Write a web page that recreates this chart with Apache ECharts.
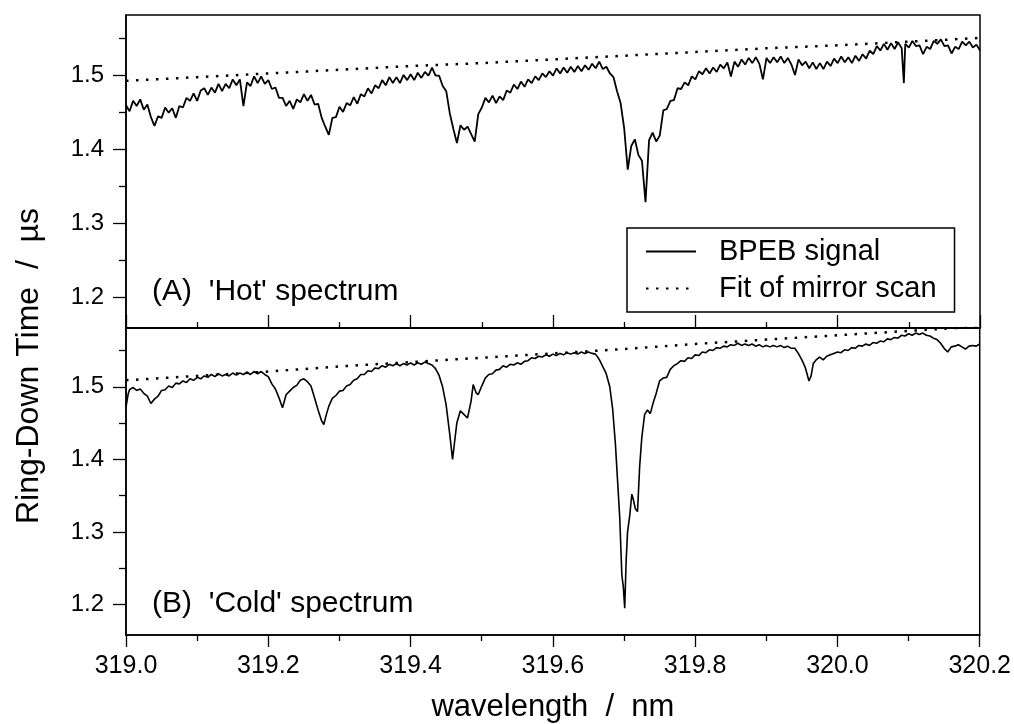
<!DOCTYPE html>
<html>
<head>
<meta charset="utf-8">
<script src="https://cdn.jsdelivr.net/npm/echarts@6/dist/echarts.min.js"></script>
<style>
html,body{margin:0;padding:0;background:#fff;}
#chart{width:1014px;height:724px;}
</style>
</head>
<body>
<div id="chart"></div>
<script>
// ---- data (wavelength nm, ring-down time µs) ----
var xMajorTicks = [319.0, 319.2, 319.4, 319.6, 319.8, 320.0, 320.2];
var xMinorTicks = [319.1, 319.3, 319.5, 319.7, 319.9, 320.1];
var yMajorTicks = [1.2, 1.3, 1.4, 1.5];
var yMinorTicks = [1.25, 1.35, 1.45, 1.55];

var hotSignal = [
[319.000,1.459],[319.005,1.451],[319.010,1.465],[319.015,1.458],[319.020,1.467],[319.025,1.453],[319.030,1.460],[319.035,1.443],[319.040,1.431],[319.045,1.444],
[319.050,1.442],[319.055,1.456],[319.060,1.449],[319.065,1.455],[319.070,1.442],[319.075,1.458],[319.080,1.456],[319.085,1.469],[319.090,1.465],[319.095,1.475],
[319.100,1.465],[319.105,1.479],[319.110,1.482],[319.115,1.473],[319.120,1.483],[319.125,1.476],[319.130,1.488],[319.135,1.478],[319.140,1.488],[319.145,1.482],
[319.150,1.494],[319.155,1.486],[319.160,1.494],[319.165,1.458],[319.170,1.490],[319.175,1.485],[319.180,1.498],[319.185,1.489],[319.190,1.498],[319.195,1.488],
[319.200,1.493],[319.205,1.481],[319.210,1.483],[319.215,1.469],[319.220,1.469],[319.225,1.458],[319.230,1.465],[319.235,1.454],[319.240,1.467],[319.245,1.463],
[319.250,1.474],[319.255,1.465],[319.260,1.473],[319.265,1.460],[319.270,1.461],[319.275,1.442],[319.280,1.430],[319.285,1.419],[319.290,1.442],[319.295,1.443],
[319.300,1.457],[319.305,1.450],[319.310,1.462],[319.315,1.459],[319.320,1.470],[319.325,1.461],[319.330,1.474],[319.335,1.471],[319.340,1.482],[319.345,1.475],
[319.350,1.486],[319.355,1.482],[319.360,1.493],[319.365,1.486],[319.370,1.497],[319.375,1.489],[319.380,1.497],[319.385,1.489],[319.390,1.500],[319.395,1.493],
[319.400,1.501],[319.405,1.493],[319.410,1.503],[319.415,1.496],[319.420,1.504],[319.425,1.499],[319.430,1.510],[319.435,1.499],[319.440,1.499],[319.445,1.485],
[319.450,1.478],[319.455,1.448],[319.460,1.427],[319.465,1.408],[319.470,1.432],[319.475,1.426],[319.480,1.430],[319.485,1.420],[319.490,1.410],[319.495,1.447],
[319.500,1.456],[319.505,1.469],[319.510,1.463],[319.515,1.472],[319.520,1.462],[319.525,1.471],[319.530,1.466],[319.535,1.479],[319.540,1.476],[319.545,1.487],
[319.550,1.481],[319.555,1.491],[319.560,1.484],[319.565,1.494],[319.570,1.489],[319.575,1.498],[319.580,1.493],[319.585,1.502],[319.590,1.497],[319.595,1.505],
[319.600,1.499],[319.605,1.509],[319.610,1.502],[319.615,1.510],[319.620,1.503],[319.625,1.511],[319.630,1.504],[319.635,1.512],[319.640,1.505],[319.645,1.513],
[319.650,1.507],[319.655,1.515],[319.660,1.509],[319.665,1.518],[319.670,1.508],[319.675,1.511],[319.680,1.502],[319.685,1.497],[319.690,1.478],[319.695,1.462],
[319.700,1.428],[319.705,1.372],[319.710,1.404],[319.715,1.413],[319.720,1.392],[319.725,1.384],[319.730,1.328],[319.735,1.412],[319.740,1.422],[319.745,1.410],
[319.750,1.418],[319.755,1.452],[319.760,1.454],[319.765,1.465],[319.770,1.466],[319.775,1.482],[319.780,1.481],[319.785,1.490],[319.790,1.486],[319.795,1.498],
[319.800,1.494],[319.805,1.505],[319.810,1.501],[319.815,1.509],[319.820,1.502],[319.825,1.510],[319.830,1.504],[319.835,1.514],[319.840,1.509],[319.845,1.517],
[319.850,1.498],[319.855,1.518],[319.860,1.511],[319.865,1.521],[319.870,1.514],[319.875,1.523],[319.880,1.516],[319.885,1.524],[319.890,1.515],[319.895,1.494],
[319.900,1.523],[319.905,1.516],[319.910,1.524],[319.915,1.517],[319.920,1.525],[319.925,1.516],[319.930,1.523],[319.935,1.514],[319.940,1.500],[319.945,1.521],
[319.950,1.513],[319.955,1.518],[319.960,1.509],[319.965,1.517],[319.970,1.508],[319.975,1.516],[319.980,1.508],[319.985,1.518],[319.990,1.512],[319.995,1.522],
[320.000,1.516],[320.005,1.525],[320.010,1.517],[320.015,1.524],[320.020,1.516],[320.025,1.526],[320.030,1.519],[320.035,1.528],[320.040,1.522],[320.045,1.533],
[320.050,1.528],[320.055,1.539],[320.060,1.533],[320.065,1.542],[320.070,1.534],[320.075,1.543],[320.080,1.535],[320.085,1.544],[320.090,1.536],[320.093,1.489],
[320.095,1.542],[320.100,1.537],[320.105,1.546],[320.110,1.539],[320.115,1.540],[320.120,1.528],[320.125,1.538],[320.130,1.535],[320.135,1.546],[320.140,1.542],
[320.145,1.548],[320.150,1.539],[320.155,1.540],[320.160,1.529],[320.165,1.538],[320.170,1.535],[320.175,1.545],[320.180,1.540],[320.185,1.545],[320.190,1.537],
[320.195,1.541],[320.200,1.533]
];

var hotFit = [
[319.0,1.492],[319.1,1.497],[319.2,1.502],[319.3,1.507],[319.4,1.512],[319.5,1.516],[319.6,1.521],
[319.7,1.526],[319.8,1.531],[319.9,1.536],[320.0,1.540],[320.1,1.545],[320.2,1.550]
];

var coldSignal = [
[319.000,1.472],[319.003,1.490],[319.005,1.496],[319.010,1.499],[319.015,1.495],[319.020,1.497],[319.025,1.491],[319.030,1.487],[319.035,1.477],[319.040,1.483],
[319.045,1.487],[319.050,1.495],[319.055,1.496],[319.060,1.501],[319.065,1.499],[319.070,1.505],[319.075,1.504],[319.080,1.508],[319.085,1.506],[319.090,1.511],
[319.095,1.509],[319.100,1.513],[319.105,1.511],[319.110,1.515],[319.115,1.513],[319.120,1.517],[319.125,1.514],[319.130,1.518],[319.135,1.515],[319.140,1.517],
[319.145,1.515],[319.150,1.519],[319.155,1.516],[319.160,1.519],[319.165,1.517],[319.170,1.520],[319.175,1.517],[319.180,1.521],[319.185,1.518],[319.190,1.521],
[319.195,1.517],[319.200,1.514],[319.205,1.504],[319.210,1.497],[319.215,1.485],[319.220,1.471],[319.225,1.489],[319.230,1.494],[319.235,1.499],[319.240,1.502],
[319.245,1.509],[319.250,1.511],[319.255,1.507],[319.260,1.501],[319.265,1.485],[319.270,1.468],[319.275,1.453],[319.278,1.448],[319.282,1.463],[319.285,1.473],
[319.290,1.484],[319.295,1.488],[319.300,1.494],[319.305,1.495],[319.310,1.501],[319.315,1.503],[319.320,1.509],[319.325,1.511],[319.330,1.517],[319.335,1.517],
[319.340,1.522],[319.345,1.521],[319.350,1.526],[319.355,1.525],[319.360,1.529],[319.365,1.527],[319.370,1.531],[319.375,1.529],[319.380,1.532],[319.385,1.529],
[319.390,1.532],[319.395,1.530],[319.400,1.533],[319.405,1.530],[319.410,1.533],[319.415,1.531],[319.420,1.534],[319.425,1.532],[319.430,1.530],[319.435,1.525],
[319.440,1.516],[319.445,1.500],[319.450,1.475],[319.455,1.435],[319.459,1.400],[319.462,1.425],[319.465,1.450],[319.470,1.467],[319.475,1.462],[319.480,1.457],
[319.485,1.480],[319.488,1.503],[319.492,1.492],[319.495,1.489],[319.500,1.501],[319.505,1.512],[319.510,1.517],[319.515,1.518],[319.520,1.523],[319.525,1.524],
[319.530,1.529],[319.535,1.527],[319.540,1.531],[319.545,1.530],[319.550,1.533],[319.555,1.531],[319.560,1.535],[319.565,1.536],[319.570,1.540],[319.575,1.539],
[319.580,1.542],[319.585,1.541],[319.590,1.544],[319.595,1.542],[319.600,1.545],[319.605,1.543],[319.610,1.546],[319.615,1.544],[319.620,1.547],[319.625,1.545],
[319.630,1.547],[319.635,1.545],[319.640,1.548],[319.645,1.546],[319.650,1.548],[319.655,1.546],[319.660,1.545],[319.665,1.538],[319.670,1.528],[319.675,1.518],
[319.680,1.500],[319.684,1.470],[319.688,1.420],[319.691,1.370],[319.694,1.320],[319.697,1.240],[319.699,1.225],[319.701,1.195],[319.703,1.260],[319.705,1.300],
[319.708,1.322],[319.711,1.352],[319.713,1.345],[319.716,1.332],[319.719,1.328],[319.722,1.390],[319.725,1.430],[319.729,1.462],[319.733,1.468],[319.737,1.463],
[319.741,1.478],[319.745,1.490],[319.750,1.508],[319.755,1.512],[319.760,1.513],[319.765,1.524],[319.770,1.529],[319.775,1.532],[319.780,1.536],[319.785,1.535],
[319.790,1.540],[319.795,1.539],[319.800,1.544],[319.805,1.543],[319.810,1.548],[319.815,1.547],[319.820,1.551],[319.825,1.550],[319.830,1.554],[319.835,1.553],
[319.840,1.556],[319.845,1.555],[319.850,1.558],[319.855,1.557],[319.860,1.560],[319.865,1.557],[319.870,1.559],[319.875,1.557],[319.880,1.559],[319.885,1.556],
[319.890,1.558],[319.895,1.555],[319.900,1.557],[319.905,1.555],[319.910,1.557],[319.915,1.555],[319.920,1.557],[319.925,1.554],[319.930,1.556],[319.935,1.553],
[319.940,1.553],[319.945,1.546],[319.950,1.537],[319.955,1.526],[319.960,1.508],[319.963,1.515],[319.966,1.532],[319.970,1.537],[319.975,1.541],[319.980,1.537],
[319.985,1.542],[319.990,1.544],[319.995,1.546],[320.000,1.548],[320.005,1.547],[320.010,1.551],[320.015,1.550],[320.020,1.554],[320.025,1.553],[320.030,1.557],
[320.035,1.556],[320.040,1.559],[320.045,1.557],[320.050,1.561],[320.055,1.560],[320.060,1.563],[320.065,1.562],[320.070,1.566],[320.075,1.565],[320.080,1.568],
[320.085,1.567],[320.090,1.571],[320.095,1.570],[320.100,1.573],[320.105,1.571],[320.110,1.574],[320.115,1.572],[320.120,1.574],[320.125,1.571],[320.130,1.570],
[320.135,1.567],[320.140,1.565],[320.145,1.560],[320.150,1.553],[320.155,1.548],[320.160,1.555],[320.165,1.556],[320.170,1.558],[320.175,1.555],[320.180,1.552],
[320.185,1.556],[320.190,1.557],[320.195,1.556],[320.200,1.559]
];

var coldFit = [
[319.0,1.509],[319.1,1.515],[319.2,1.521],[319.3,1.528],[319.4,1.534],[319.5,1.540],[319.6,1.546],
[319.7,1.552],[319.8,1.559],[319.9,1.565],[320.0,1.571],[320.1,1.577],[320.2,1.583]
];

var seriesNames = ['BPEB signal', 'Fit of mirror scan'];
var panelLabels = ["(A)  'Hot' spectrum", "(B)  'Cold' spectrum"];
var xName = 'wavelength  /  nm';
var yName = 'Ring-Down Time  /  \u00b5s';

// ---- chart ----
var FONT = '"Liberation Sans", Arial, sans-serif';
var X_MIN = 319.0, X_MAX = 320.2, Y_MIN = 1.158, Y_MAX = 1.581;
var fmt1 = function (v) { return Number(v).toFixed(1); };

function xAxisCfg(grid, opts) {
  return Object.assign({
    type: 'value', gridIndex: grid, min: X_MIN, max: X_MAX, position: 'bottom',
    axisLine: { show: true, onZero: false, lineStyle: { color: '#000', width: 1.5 } },
    splitLine: { show: false },
    axisLabel: { show: false },
    axisTick: { show: false }
  }, opts);
}
function yAxisCfg(grid, opts) {
  return Object.assign({
    type: 'value', gridIndex: grid, min: Y_MIN, max: Y_MAX, position: 'left',
    axisLine: { show: true, onZero: false, lineStyle: { color: '#000', width: 1.5 } },
    splitLine: { show: false },
    axisLabel: { show: false },
    axisTick: { show: false }
  }, opts);
}
var majorYLabel = { show: true, customValues: yMajorTicks, formatter: fmt1, fontSize: 24, fontFamily: FONT, color: '#000', margin: 22 };

var chart = echarts.init(document.getElementById('chart'), null, { renderer: 'canvas' });
chart.setOption({
  animation: false,
  backgroundColor: '#fff',
  grid: [
    { left: 126, top: 15, width: 854, height: 313, show: true, borderColor: '#000', borderWidth: 1.5, backgroundColor: 'transparent' },
    { left: 126, top: 328, width: 854, height: 314, show: true, borderColor: '#000', borderWidth: 1.5, backgroundColor: 'transparent' }
  ],
  xAxis: [
    xAxisCfg(0, { axisTick: { show: true, inside: true, length: 13, customValues: xMajorTicks, lineStyle: { color: '#000', width: 1.3 } } }),
    xAxisCfg(0, { axisLine: { show: false }, axisTick: { show: true, inside: true, length: 6, customValues: xMinorTicks, lineStyle: { color: '#000', width: 1.3 } } }),
    xAxisCfg(1, {
      axisTick: { show: true, inside: false, length: 12, customValues: xMajorTicks, lineStyle: { color: '#000', width: 1.3 } },
      axisLabel: { show: true, customValues: xMajorTicks, formatter: fmt1, fontSize: 25, fontFamily: FONT, color: '#000', margin: 19 },
      name: xName, nameLocation: 'middle', nameGap: 57,
      nameTextStyle: { fontSize: 31, fontFamily: FONT, color: '#000' }
    }),
    xAxisCfg(1, { axisLine: { show: false }, axisTick: { show: true, inside: false, length: 6, customValues: xMinorTicks, lineStyle: { color: '#000', width: 1.3 } } })
  ],
  yAxis: [
    yAxisCfg(0, { axisTick: { show: true, inside: false, length: 13, customValues: yMajorTicks, lineStyle: { color: '#000', width: 1.3 } }, axisLabel: majorYLabel }),
    yAxisCfg(0, { axisLine: { show: false }, axisTick: { show: true, inside: false, length: 7, customValues: yMinorTicks, lineStyle: { color: '#000', width: 1.3 } } }),
    yAxisCfg(1, { axisTick: { show: true, inside: false, length: 13, customValues: yMajorTicks, lineStyle: { color: '#000', width: 1.3 } }, axisLabel: majorYLabel }),
    yAxisCfg(1, { axisLine: { show: false }, axisTick: { show: true, inside: false, length: 7, customValues: yMinorTicks, lineStyle: { color: '#000', width: 1.3 } } })
  ],
  legend: {
    orient: 'vertical', left: 627, top: 228,
    backgroundColor: '#fff', borderColor: '#000', borderWidth: 1.5, borderRadius: 0,
    padding: [9, 18, 9, 18], itemGap: 8, itemWidth: 50, itemHeight: 14,
    selectedMode: false,
    itemStyle: { opacity: 0, color: 'transparent', borderWidth: 0 },
    textStyle: { fontSize: 29, fontFamily: FONT, color: '#000', padding: [0, 0, 0, 18] },
    data: seriesNames
  },
  graphic: [
    { type: 'text', x: 152, y: 292, style: { text: panelLabels[0], fontSize: 30, fontFamily: FONT, fill: '#000', textVerticalAlign: 'middle' } },
    { type: 'text', x: 152, y: 604, style: { text: panelLabels[1], fontSize: 30, fontFamily: FONT, fill: '#000', textVerticalAlign: 'middle' } },
    { type: 'text', x: 29, y: 366, rotation: Math.PI / 2, style: { text: yName, fontSize: 32, fontFamily: FONT, fill: '#000', textAlign: 'center', textVerticalAlign: 'middle' } }
  ],
  series: [
    { name: seriesNames[0], type: 'line', xAxisIndex: 0, yAxisIndex: 0, data: hotSignal, symbol: 'none', showSymbol: false, lineStyle: { color: '#000', width: 1.8 }, itemStyle: { color: '#000' } },
    { name: seriesNames[1], type: 'line', xAxisIndex: 0, yAxisIndex: 0, data: hotFit, symbol: 'none', showSymbol: false, lineStyle: { color: '#000', width: 2.5, type: [2.5, 7.5] }, itemStyle: { color: '#000' } },
    { name: seriesNames[0], type: 'line', xAxisIndex: 2, yAxisIndex: 2, data: coldSignal, symbol: 'none', showSymbol: false, lineStyle: { color: '#000', width: 1.6 }, itemStyle: { color: '#000' } },
    { name: seriesNames[1], type: 'line', xAxisIndex: 2, yAxisIndex: 2, data: coldFit, symbol: 'none', showSymbol: false, lineStyle: { color: '#000', width: 2.5, type: [2.5, 7.5] }, itemStyle: { color: '#000' } }
  ]
});
</script>
</body>
</html>
